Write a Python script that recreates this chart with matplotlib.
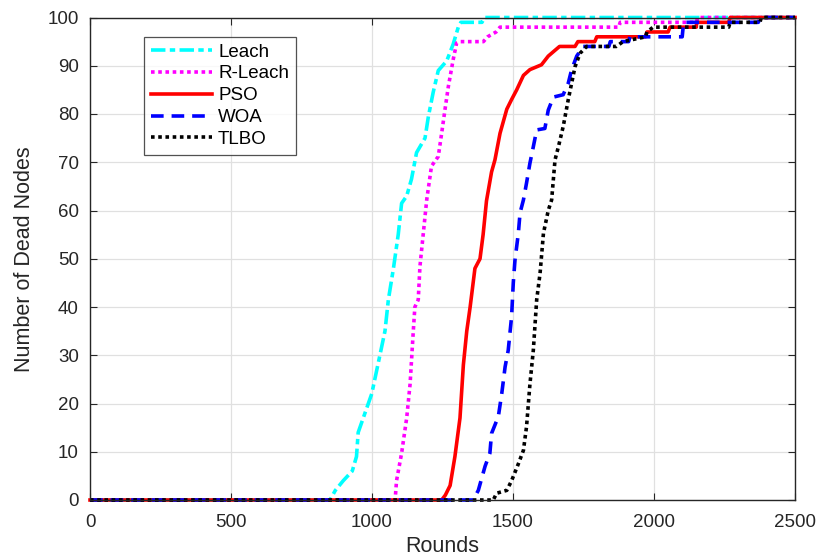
import matplotlib
matplotlib.use("Agg")
import matplotlib.pyplot as plt

# ---- data ----
leach_x = [0, 851, 870, 898, 930, 945, 951, 969, 999, 1028, 1046, 1058, 1076, 1093, 1105, 1123, 1140,
           1158, 1188, 1200, 1217, 1235, 1265, 1288, 1306, 1315, 1390, 1400, 2500]
leach_y = [0, 0, 2, 4, 6, 9, 14, 17, 22, 30, 35, 41.5, 48, 55, 61.5, 63, 66.5,
           72, 75, 79.5, 84.5, 89, 91, 94.5, 98, 99, 99, 100, 100]

rleach_x = [0, 1082, 1087, 1105, 1123, 1135, 1146, 1152, 1164, 1170, 1182, 1194, 1211, 1235, 1247, 1259,
            1271, 1288, 1300, 1312, 1395, 1410, 1440, 1454, 1875, 1880, 2150, 2155, 2500]
rleach_y = [0, 0, 4, 9.7, 17, 24, 34.6, 40, 41.5, 48.4, 55.3, 62.2, 69.2, 71.2, 76, 81,
            85.8, 91.3, 94.7, 95, 95, 96, 97, 98, 98, 99, 99, 100, 100]

pso_x = [0, 1247, 1260, 1277, 1294, 1312, 1324, 1336, 1348, 1365, 1383, 1394, 1406, 1424, 1436, 1454,
         1478, 1495, 1513, 1537, 1560, 1601, 1625, 1655, 1665, 1720, 1730, 1790, 1797, 1970, 1975,
         2050, 2057, 2150, 2151, 2265, 2270, 2500]
pso_y = [0, 0, 1, 3, 9, 17, 28, 35, 40, 48, 50, 55, 62, 68, 70.5, 76,
         81, 83, 85, 88, 89.2, 90.2, 92, 93.5, 94, 94, 95, 95, 96, 96, 97,
         97, 98, 98, 99, 99, 100, 100]

woa_x = [0, 1359, 1377, 1401, 1418, 1424, 1448, 1460, 1472, 1483, 1489, 1495, 1501, 1507, 1513, 1519,
         1525, 1537, 1548, 1560, 1572, 1584, 1613, 1625, 1643, 1678, 1696, 1708, 1726, 1749, 1840,
         1845, 1910, 1915, 2100, 2105, 2370, 2376, 2500]
woa_y = [0, 0, 2, 7, 9.7, 13.8, 17.3, 22, 27.6, 31, 34.5, 38, 45, 49.7, 52.5, 55.3,
         59.5, 62.2, 65.7, 69.8, 73.2, 76.7, 77, 80.8, 83.5, 84, 86.4, 89.2, 92, 94, 94,
         95, 95, 96, 96, 99, 99, 100, 100]

tlbo_x = [0, 1430, 1442, 1478, 1495, 1519, 1537, 1548, 1560, 1572, 1584, 1596, 1608, 1625, 1637, 1649,
          1661, 1678, 1696, 1708, 1720, 1738, 1761, 1867, 1890, 1970, 1975, 1997, 2265, 2270, 2376,
          2380, 2500]
tlbo_y = [0, 0, 1.4, 2, 4, 7.5, 10.3, 15.2, 24, 31, 41.5, 47, 55.3, 60, 62.2, 70.5,
          73.2, 77.4, 83, 86.4, 89.8, 92.6, 94, 94, 95, 96, 97, 98, 98, 99, 99,
          100, 100]

labels = ["Leach", "R-Leach", "PSO", "WOA", "TLBO"]
xticks = [0, 500, 1000, 1500, 2000, 2500]
yticks = list(range(0, 101, 10))

plt.rcParams['font.family'] = ['Liberation Sans', 'DejaVu Sans']

fig = plt.figure(figsize=(8.19, 5.56), dpi=100)
ax = fig.add_axes([90 / 819, 1 - 500 / 556, 705 / 819, 482.5 / 556])

lw = 2.6
ax.plot(leach_x, leach_y, color='#00FFFF', lw=lw, ls=(0, (4, 1.2, 1.5, 1.2)), label=labels[0], clip_on=False)
ax.plot(rleach_x, rleach_y, color='#FF00FF', lw=lw, ls=(0, (1, 1)), label=labels[1], clip_on=False)
ax.plot(pso_x, pso_y, color='#FF0000', lw=lw, ls='-', label=labels[2], clip_on=False)
ax.plot(woa_x, woa_y, color='#0000FF', lw=lw, ls=(0, (3.5, 2.2)), label=labels[3], clip_on=False)
ax.plot(tlbo_x, tlbo_y, color='#000000', lw=lw, ls=(0, (1, 1)), label=labels[4], clip_on=False)

ax.set_xlim(0, 2500)
ax.set_ylim(0, 100)
ax.set_xticks(xticks)
ax.set_yticks(yticks)
ax.tick_params(direction='in', top=True, right=True, labelsize=13.5, colors='#262626', length=5)
ax.tick_params(axis='x', pad=10)
ax.tick_params(axis='y', pad=8)
ax.grid(True, color='#e0e0e0', lw=0.9)
ax.set_axisbelow(True)
for s in ax.spines.values():
    s.set_color('#262626')
    s.set_linewidth(1.0)

ax.set_xlabel("Rounds", fontsize=15.5, color='#262626', labelpad=4)
ax.set_ylabel("Number of Dead Nodes", fontsize=15.5, color='#262626', labelpad=9)

leg = ax.legend(loc='upper left', bbox_to_anchor=((144 - 90) / 705, 1 - (37 - 17.5) / 482.5),
                fontsize=13.5, frameon=True, fancybox=False, edgecolor='#262626',
                handlelength=3.3, handletextpad=0.3, labelspacing=0.25, borderpad=0.35,
                borderaxespad=0)
leg.get_frame().set_linewidth(0.9)

fig.savefig("out.png", dpi=100)
